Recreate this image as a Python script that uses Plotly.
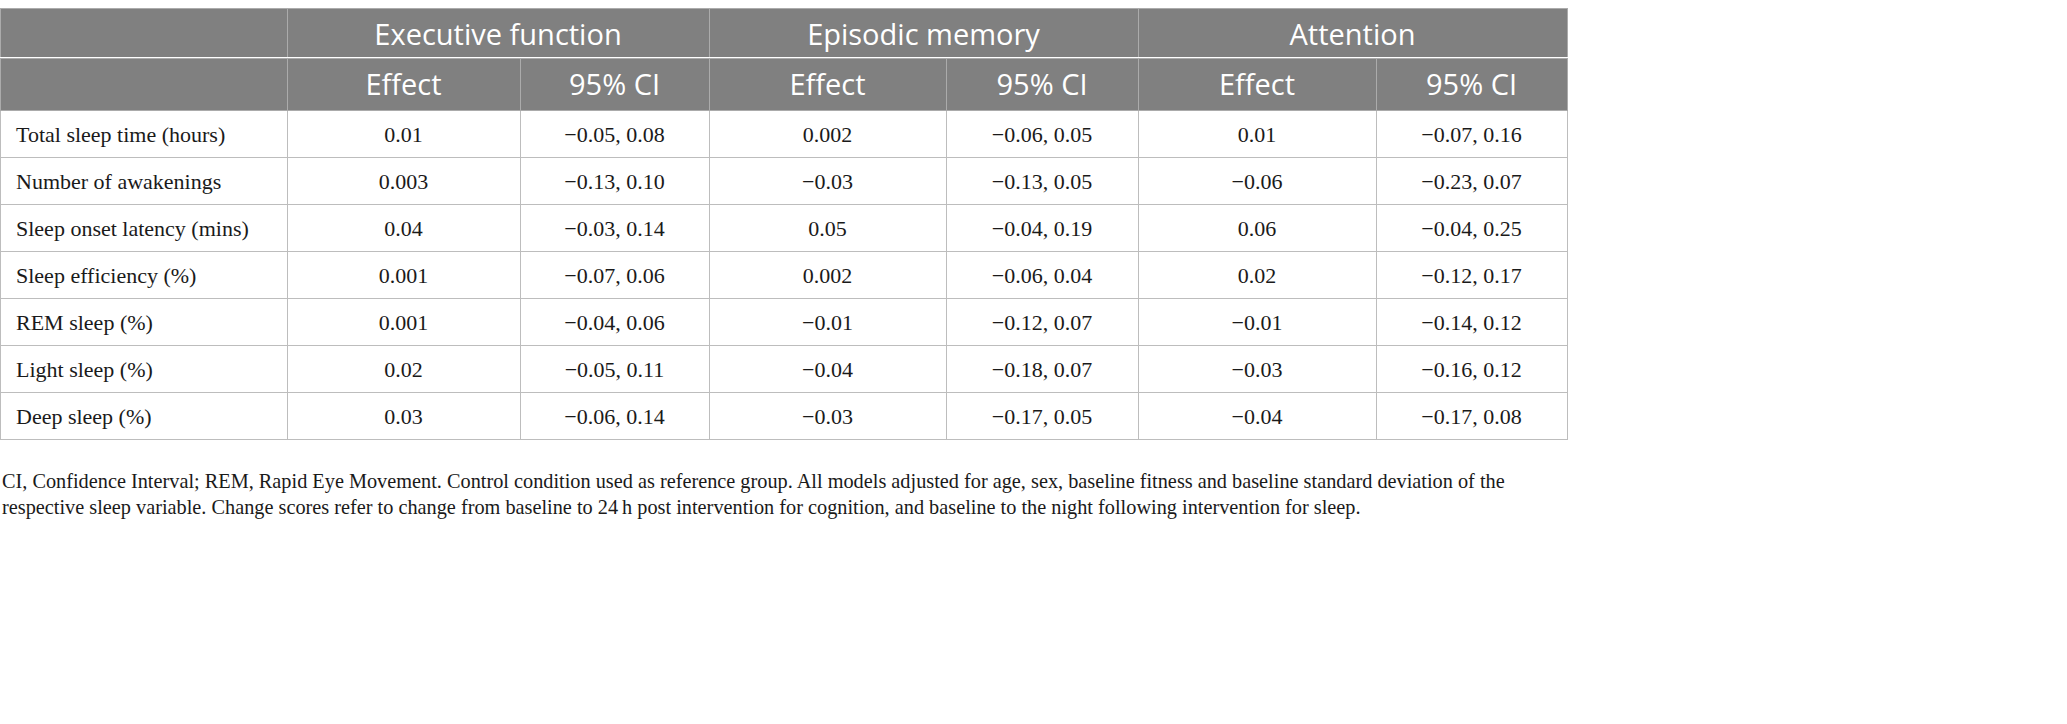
import plotly.graph_objects as go

W, H = 2067, 724

groups = ["", "Executive function", "Episodic memory", "Attention"]
subheads = ["", "Effect", "95% CI", "Effect", "95% CI", "Effect", "95% CI"]

variables = [
    "Total sleep time (hours)",
    "Number of awakenings",
    "Sleep onset latency (mins)",
    "Sleep efficiency (%)",
    "REM sleep (%)",
    "Light sleep (%)",
    "Deep sleep (%)",
]
exec_effect = ["0.01", "0.003", "0.04", "0.001", "0.001", "0.02", "0.03"]
exec_ci = ["−0.05, 0.08", "−0.13, 0.10", "−0.03, 0.14", "−0.07, 0.06",
           "−0.04, 0.06", "−0.05, 0.11", "−0.06, 0.14"]
epi_effect = ["0.002", "−0.03", "0.05", "0.002", "−0.01", "−0.04", "−0.03"]
epi_ci = ["−0.06, 0.05", "−0.13, 0.05", "−0.04, 0.19", "−0.06, 0.04",
          "−0.12, 0.07", "−0.18, 0.07", "−0.17, 0.05"]
att_effect = ["0.01", "−0.06", "0.06", "0.02", "−0.01", "−0.03", "−0.04"]
att_ci = ["−0.07, 0.16", "−0.23, 0.07", "−0.04, 0.25", "−0.12, 0.17",
          "−0.14, 0.12", "−0.16, 0.12", "−0.17, 0.08"]

footnote = ("CI, Confidence Interval; REM, Rapid Eye Movement. Control condition used as reference group. "
            "All models adjusted for age, sex, baseline fitness and baseline standard deviation of the<br>"
            "respective sleep variable. Change scores refer to change from baseline to 24\u2009h post intervention "
            "for cognition, and baseline to the night following intervention for sleep.")

# pixel layout
col_w = [287, 233, 189, 237, 192, 238, 191]
group_w = [col_w[0], col_w[1] + col_w[2], col_w[3] + col_w[4], col_w[5] + col_w[6]]
table_w = sum(col_w)
top = 8
h_group = 50
h_sub = 52
h_row = 47

head_bg = "#808080"
head_line = "#ababab"
body_line = "#bdbdbd"
sans = "Open Sans"
serif = "Liberation Serif"

def ydom(y0, y1):
    return [1 - y1 / H, 1 - y0 / H]

fig = go.Figure()

# top row with the merged group labels
fig.add_trace(go.Table(
    domain=dict(x=[0, table_w / W], y=ydom(top, top + h_group)),
    columnwidth=group_w,
    header=dict(
        values=groups,
        fill_color=head_bg,
        line=dict(color=head_line, width=1),
        font=dict(family=sans, size=29, color="white"),
        align="center",
        height=h_group,
    ),
))

# sub header + body
body_top = top + h_group
body_h = h_sub + h_row * len(variables)
fig.add_trace(go.Table(
    domain=dict(x=[0, table_w / W], y=ydom(body_top, body_top + body_h + 2)),
    columnwidth=col_w,
    header=dict(
        values=subheads,
        fill_color=head_bg,
        line=dict(color=head_line, width=1),
        font=dict(family=sans, size=29, color="white"),
        align="center",
        height=h_sub,
    ),
    cells=dict(
        values=[variables, exec_effect, exec_ci, epi_effect, epi_ci, att_effect, att_ci],
        fill_color="white",
        line=dict(color=body_line, width=1),
        font=dict(family=serif, size=22, color="#1a1a1a"),
        align=["left"] + ["center"] * 6,
        height=h_row,
    ),
))

fig.add_annotation(
    x=0, y=1 - 468 / H, xref="paper", yref="paper",
    xanchor="left", yanchor="top", align="left", showarrow=False,
    text=footnote,
    font=dict(family=serif, size=20.3, color="#1a1a1a"),
)

fig.update_layout(
    width=W, height=H,
    margin=dict(l=0, r=0, t=0, b=0),
    paper_bgcolor="white",
    plot_bgcolor="white",
)

# no page margin, push the table text down to mid-cell, extra indent for row labels
post = """
document.body.style.margin = '0px';
document.querySelectorAll('.cell-text-holder').forEach(function(el) {
    var t = el.getAttribute('transform') || '';
    var m = t.match(/translate\\(([-\\d.e]+)[ ,]+([-\\d.e]+)\\)/);
    if (m) {
        var x = parseFloat(m[1]);
        if (x < 20) { x += 8; }
        el.setAttribute('transform', 'translate(' + x + ',' + (parseFloat(m[2]) + 7) + ')');
    }
});
"""

fig.write_html("out.html", post_script=post, config={"displayModeBar": False})
